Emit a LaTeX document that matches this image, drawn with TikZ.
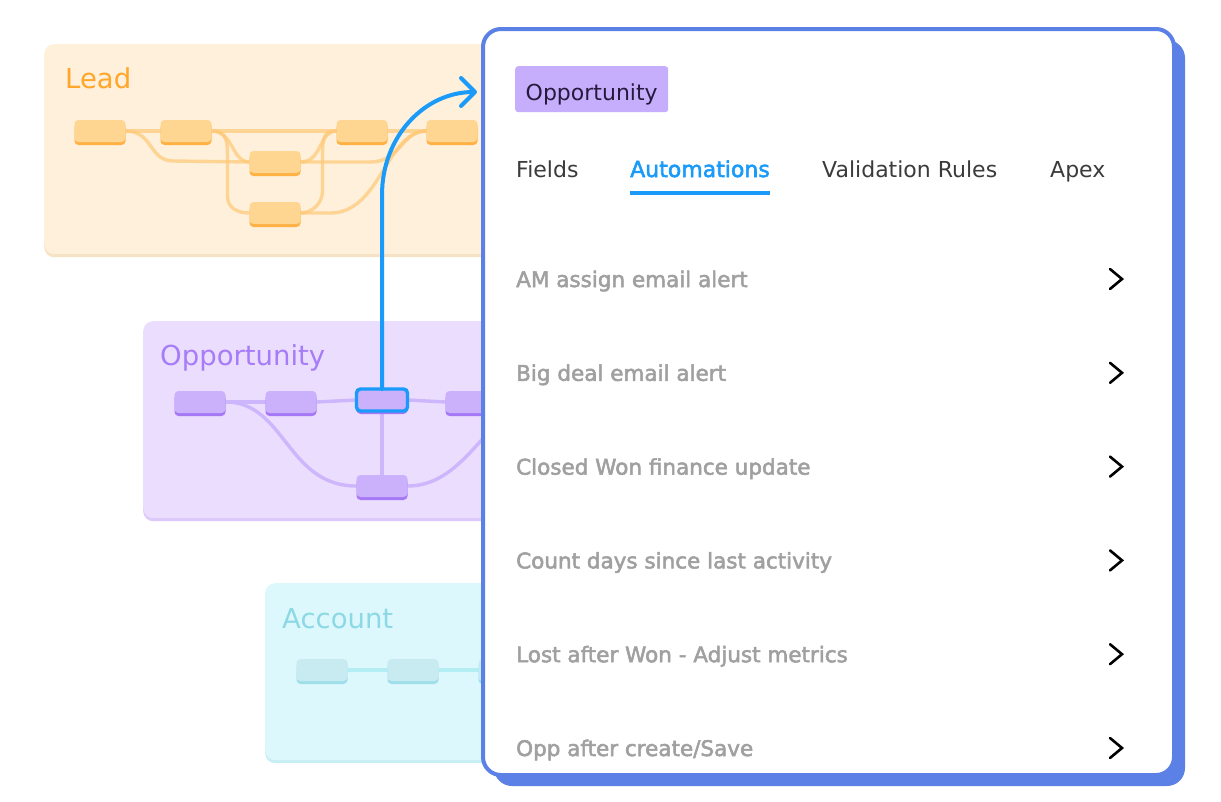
\documentclass[tikz,border=0pt]{standalone}
\usepackage{fontspec}
\setmainfont{DejaVu Sans}
\newfontfamily\semi[FakeBold=2.4]{DejaVu Sans}
\usetikzlibrary{arrows.meta,shadows}
\pgfdeclarelayer{back}
\pgfdeclarelayer{mid}
\pgfsetlayers{back,mid,main}
\definecolor{leadbg}{HTML}{FEF0DA}
\definecolor{leadbgsh}{HTML}{F6E2C5}
\definecolor{leadtitle}{HTML}{FFA62B}
\definecolor{lnodec}{HTML}{FFD592}
\definecolor{lnodesh}{HTML}{FFB144}
\definecolor{llinec}{HTML}{FFC978}
\definecolor{oppbg}{HTML}{EBDDFE}
\definecolor{oppbgsh}{HTML}{DCC8FA}
\definecolor{opptitle}{HTML}{A77CF8}
\definecolor{onodec}{HTML}{CBB1FC}
\definecolor{onodesh}{HTML}{A678F6}
\definecolor{olinec}{HTML}{CDB6FB}
\definecolor{accbg}{HTML}{DCF8FD}
\definecolor{accbgsh}{HTML}{C7EEF4}
\definecolor{acctitle}{HTML}{8CD9E5}
\definecolor{anodec}{HTML}{C8EBF1}
\definecolor{anodesh}{HTML}{9EDFE9}
\definecolor{alinec}{HTML}{B4EEF5}
\definecolor{panelblue}{HTML}{5B81E6}
\definecolor{arrowblue}{HTML}{1A9AF9}
\definecolor{tagbg}{HTML}{C7AEFC}
\definecolor{tagtext}{HTML}{251A3D}
\definecolor{tabtext}{HTML}{3B3B3B}
\definecolor{itemgray}{HTML}{A0A0A0}
\tikzset{
  blk/.style={rounded corners=4pt, minimum width=51pt, minimum height=22pt, inner sep=0pt, outer sep=0pt},
  lnode/.style={blk, fill=lnodec, general shadow={shadow yshift=-3pt, fill=lnodesh}},
  onode/.style={blk, fill=onodec, general shadow={shadow yshift=-3pt, fill=onodesh}},
  anode/.style={blk, fill=anodec, general shadow={shadow yshift=-3pt, fill=anodesh}},
  lconn/.style={draw=llinec, line width=3.4pt, opacity=0.7},
  oconn/.style={draw=olinec, line width=3.4pt},
  aconn/.style={draw=alinec, line width=3.4pt},
  groupbox/.style={rounded corners=10pt, anchor=north west, inner sep=0pt},
  grouptitle/.style={anchor=base west, inner sep=0pt, font=\fontsize{27.5}{32}\selectfont},
  tab/.style={anchor=base west, inner sep=0pt, font=\fontsize{22}{26}\selectfont, text=tabtext},
  item/.style={anchor=base west, inner sep=0pt, font=\semi\fontsize{21.5}{25}\selectfont, text=itemgray},
  chev/.style={draw=black, line width=2.6pt, line cap=round, line join=miter}
}
\begin{document}
\begin{tikzpicture}[x=1pt,y=-1pt]
\useasboundingbox (0,0) rectangle (1221,801);

% group boxes
\begin{pgfonlayer}{back}
\fill[white] (0,0) rectangle (1221,801);
\node[groupbox, fill=leadbg, minimum width=480pt, minimum height=210pt, general shadow={shadow yshift=-3pt, fill=leadbgsh}] (leadbox) at (44,44) {};
\node[groupbox, fill=oppbg, minimum width=380pt, minimum height=197pt, general shadow={shadow yshift=-3pt, fill=oppbgsh}] (oppbox) at (143,321) {};
\node[groupbox, fill=accbg, minimum width=260pt, minimum height=177pt, general shadow={shadow yshift=-3pt, fill=accbgsh}] (accbox) at (265,583) {};
\end{pgfonlayer}

\node[grouptitle, text=leadtitle] (leadt) at (65,88) {Lead};
\node[grouptitle, text=opptitle] (oppt) at (160,365) {Opportunity};
\node[grouptitle, text=acctitle] (acct) at (282,628) {Account};

% Lead nodes
\node[lnode] (l1) at (100,131) {};
\node[lnode] (l2) at (186,131) {};
\node[lnode] (l3) at (275,162) {};
\node[lnode] (l4) at (275,213) {};
\node[lnode] (l5) at (362,131) {};
\node[lnode] (l6) at (452,131) {};

% Opportunity nodes
\node[onode] (o1) at (200,402) {};
\node[onode] (o2) at (291,402) {};
\node[onode, draw=arrowblue, line width=3.4pt] (o3) at (382,400) {};
\node[onode] (o4) at (471,402) {};
\node[onode] (o5) at (382,486) {};
\coordinate (ohid) at (520,402);

% Account nodes
\node[anode] (a1) at (322,670) {};
\node[anode] (a2) at (413,670) {};
\node[anode] (a3) at (504,670) {};

\begin{pgfonlayer}{mid}
% Lead connectors
\draw[lconn] (l1.east) -- (l2.west);
\draw[lconn] (l1.east) .. controls +(28,0) and +(-25,0) .. ++(48,30) -- (l3.west);
\draw[lconn] (l2.east) -- (l5.west);
\draw[lconn] (l2.east) .. controls +(22,0) and +(-18,0) .. (l3.west);
\draw[lconn] (l2.east) .. controls +(16,0) and +(0,-20) .. ++(16,30) -- ++(0,35) .. controls +(0,12) and +(-12,0) .. (l4.west);
\draw[lconn] (l3.east) .. controls +(22,0) and +(-18,0) .. (l5.west);
\draw[lconn] (l3.east) -- ++(70,0) .. controls +(30,0) and +(-25,0) .. (l6.west);
\draw[lconn] (l4.east) .. controls +(12,0) and +(0,12) .. ++(22,-22) -- ++(0,-35) .. controls +(0,-20) and +(-12,0) .. (l5.west);
\draw[lconn] (l4.east) -- ++(30,0) .. controls +(50,0) and +(-40,0) .. (l6.west);
\draw[lconn] (l5.east) -- (l6.west);
% Opportunity connectors
\draw[oconn] (o1.east) -- (o2.west);
\draw[oconn] (o2.east) -- (o3.west);
\draw[oconn] (o3.east) -- (o4.west);
\draw[oconn] (o3.south) -- (o5.north);
\draw[oconn] (o1.east) .. controls +(60,0) and +(-70,0) .. (o5.west);
\draw[oconn] (o5.east) .. controls +(50,0) and +(-40,30) .. (ohid);
% Account connectors
\draw[aconn] (a1.east) -- (a2.west);
\draw[aconn] (a2.east) -- (a3.west);
\end{pgfonlayer}

% blue arrow
\coordinate (arrowend) at (477,92);
\draw[arrowblue, line width=4pt, line cap=round, -{Straight Barb[length=14pt,width=28pt,line width=4pt,round]}]
  (o3.north) -- (382,195) .. controls (382,136) and (425,92) .. (arrowend);

% panel
\node[draw=panelblue, fill=white, line width=4pt, rounded corners=18pt, minimum width=691pt, minimum height=746pt, anchor=north west, inner sep=0pt,
  general shadow={shadow xshift=11pt, shadow yshift=-11pt, fill=panelblue}] (panel) at (481,27) {};

\node[fill=tagbg, rounded corners=3pt, minimum width=153pt, minimum height=46pt, anchor=north west, inner sep=0pt] (tag) at (515,66) {};
\node[anchor=base, inner sep=0pt, text=tagtext, font=\fontsize{22}{26}\selectfont] (tagt) at ([yshift=-11pt]tag.center) {Opportunity};

\node[tab] (tfields) at (516,177) {Fields};
\node[tab, text=arrowblue, font=\semi\fontsize{22}{26}\selectfont] (tauto) at (630,177) {Automations};
\node[tab] (tval) at (822,177) {Validation Rules};
\node[tab] (tapex) at (1050,177) {Apex};
\draw[arrowblue, line width=3.4pt] ([yshift=-16pt]tauto.base west) -- ([yshift=-16pt]tauto.base east);

\foreach \t [count=\i] in {AM assign email alert, Big deal email alert, Closed Won finance update, Count days since last activity, Lost after Won - Adjust metrics, Opp after create/Save}{
  \pgfmathsetmacro{\yy}{279+(\i-1)*93.8}
  \node[item] (item\i) at (516,\yy+8) {\t};
  \coordinate (chv\i) at (1116,\yy);
  \draw[chev] ([shift={(-6,-10)}]chv\i) -- ([shift={(6,0)}]chv\i) -- ([shift={(-6,10)}]chv\i);
}
\end{tikzpicture}
\end{document}
